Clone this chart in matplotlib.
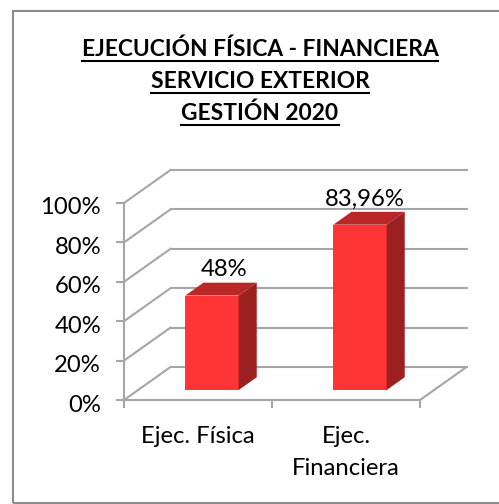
import matplotlib
matplotlib.use('Agg')
import matplotlib.pyplot as plt
from matplotlib.patches import Polygon, Rectangle
from matplotlib.transforms import ScaledTranslation

plt.rcParams['font.family'] = ['Lato', 'DejaVu Sans']

# Data
categories = ['Ejec. Física', 'Ejec.\nFinanciera']
values = [48, 83.96]
value_labels = ['48%', '83,96%']
y_ticks = [0, 20, 40, 60, 80, 100]
y_tick_labels = ['0%', '20%', '40%', '60%', '80%', '100%']
title_lines = ['EJECUCIÓN FÍSICA - FINANCIERA', 'SERVICIO EXTERIOR', 'GESTIÓN 2020']

# Colors
GRID = '#a6a6a6'
FRONT = '#ff3535'
TOP = '#bb2626'
SIDE = '#9c2020'

W, H = 499, 504
fig = plt.figure(figsize=(W / 100, H / 100), dpi=100)
fig.patch.set_facecolor('white')

# Axes covers the front plane of the fake 3D box
ax = fig.add_axes([124 / W, 1 - 400 / H, 296 / W, 197 / H])
ax.set_xlim(0, 2)
ax.set_ylim(0, 100)
ax.patch.set_visible(False)

# Depth of the box and bars, in data units
DX = 46.5 / 148
DY = 33 / 1.97
bar_width = 0.36
bar_start = 0.30   # fraction of box depth where the bar starts
bar_depth = 0.39
label_shift = [0.085, 0.035]

# Back wall gridlines and left wall diagonals
for t in y_ticks:
    ax.plot([DX, 2 + DX], [t + DY, t + DY], color=GRID, lw=1.5, clip_on=False, zorder=1)
    ax.plot([0, DX], [t, t + DY], color=GRID, lw=1.5, clip_on=False, zorder=1)
ax.plot([2, 2 + DX], [0, DY], color=GRID, lw=1.5, clip_on=False, zorder=1)

# Bars
for i, v in enumerate(values):
    x0 = i + 0.5 + bar_start * DX - bar_width / 2
    x1 = x0 + bar_width
    y0 = bar_start * DY
    y1 = y0 + v
    dx = bar_depth * DX
    dy = bar_depth * DY
    ax.add_patch(Rectangle((x0, y0), bar_width, v, fc=FRONT, ec='none', clip_on=False, zorder=3))
    ax.add_patch(Polygon([(x0, y1), (x1, y1), (x1 + dx, y1 + dy), (x0 + dx, y1 + dy)],
                         fc=TOP, ec='none', clip_on=False, zorder=3))
    ax.add_patch(Polygon([(x1, y0), (x1 + dx, y0 + dy), (x1 + dx, y1 + dy), (x1, y1)],
                         fc=SIDE, ec='none', clip_on=False, zorder=3))
    ax.text(i + 0.5 + bar_start * DX + label_shift[i], y1 + dy + 1.2, value_labels[i],
            ha='center', va='bottom', fontsize=17.2, color='black', zorder=4)

# Axis
for s in ['top', 'right']:
    ax.spines[s].set_visible(False)
for s in ['left', 'bottom']:
    ax.spines[s].set_color(GRID)
    ax.spines[s].set_linewidth(1.5)
ax.set_yticks(y_ticks)
ax.set_yticklabels(y_tick_labels)
ax.set_xticks([0, 1, 2])
ax.set_xticklabels([])
ax.set_xticks([0.5, 1.5], minor=True)
ax.set_xticklabels(categories, minor=True, linespacing=1.6)
ax.tick_params(axis='y', color=GRID, width=1.5, length=5.5, labelsize=17.2, pad=11)
ax.tick_params(axis='x', which='major', color=GRID, width=1.5, length=6)
ax.tick_params(axis='x', which='minor', length=0, labelsize=17.2, pad=19)

# y labels sit a little below their ticks in the original
down = ScaledTranslation(0, -3 / 100, fig.dpi_scale_trans)
for lab in ax.get_yticklabels():
    lab.set_transform(lab.get_transform() + down)

# Title with underline
title_y = [49, 81.5, 113.5]
underline_y = [61, 93, 125]
fig.canvas.draw()
renderer = fig.canvas.get_renderer()
for line, y, u in zip(title_lines, title_y, underline_y):
    t = fig.text(260 / W, 1 - y / H, line, ha='center', va='center',
                 fontsize=16.4, fontweight='bold', color='black')
    bb = t.get_window_extent(renderer)
    uy = 1 - u / H
    fig.add_artist(plt.Line2D([bb.x0 / W, bb.x1 / W], [uy, uy], color='black', lw=1.5))

# Chart frame, its right side is cut off by the picture edge
fig.add_artist(Rectangle((13 / W, 0.8 / H), 500 / W, 492.2 / H, transform=fig.transFigure,
                         fc='none', ec='#8c8c8c', lw=1.5))

fig.savefig('out.png', dpi=100)
